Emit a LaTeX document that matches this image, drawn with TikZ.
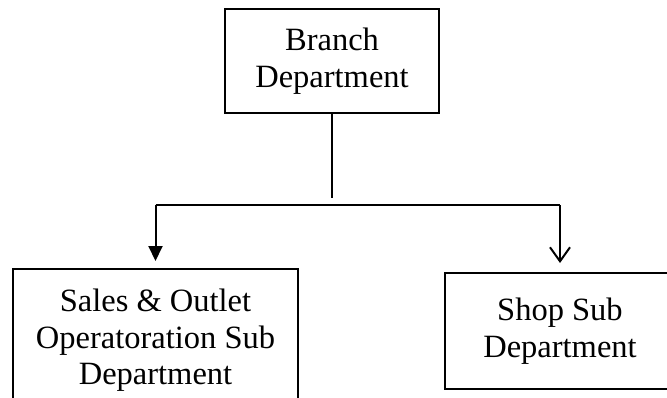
\documentclass[tikz,border=0pt]{standalone}
\usepackage{fontspec}
\setmainfont{Liberation Serif}
\usetikzlibrary{arrows.meta}
\begin{document}
\begin{tikzpicture}[x=1pt,y=1pt,
  box/.style={draw, line width=2pt, align=center, inner sep=0pt,
    font=\fontsize{32.5}{36.5}\selectfont},
  link/.style={line width=2pt}]
\useasboundingbox (0,0) rectangle (667,-397);
\node[box, minimum width=214, minimum height=104] (top) at (332,-61) {Branch\\Department};
\node[box, minimum width=285, minimum height=143] (sales) at (155.5,-340.5) {Sales \& Outlet\\Operatoration Sub\\Department};
\node[box, minimum width=230, minimum height=116] (shop) at (560,-331) {Shop Sub\\Department};
\coordinate (stemend) at (332,-198);
\coordinate (hl) at (155.5,-205);
\coordinate (hr) at (560,-205);
\draw[link] (top.south) -- (stemend);
\draw[link] (hl) -- (hr);
\draw[link, -{Triangle[width=14pt,length=15pt]}, shorten >=7pt] (hl) -- (sales.north);
\draw[link, -{Straight Barb[width=20pt,length=14pt]}, shorten >=9pt] (hr) -- (shop.north);
\end{tikzpicture}
\end{document}
